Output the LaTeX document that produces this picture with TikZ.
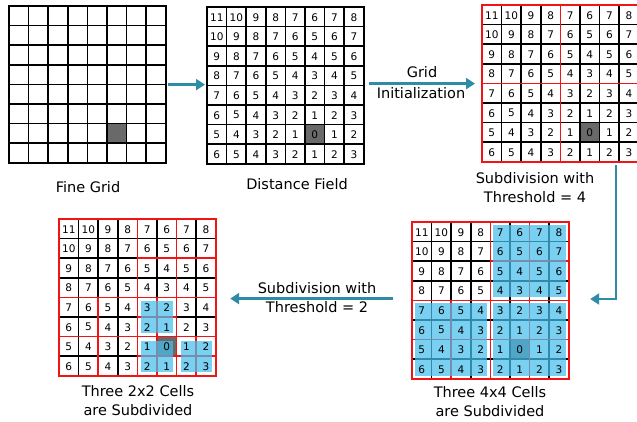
\documentclass[tikz,border=0pt]{standalone}
\usepackage{fontspec}
\setmainfont{DejaVu Sans}
\usetikzlibrary{arrows.meta}
\definecolor{arrowc}{RGB}{46,140,168}
\definecolor{hl}{RGB}{70,190,235}
\definecolor{darkcell}{RGB}{105,105,105}
\definecolor{redl}{RGB}{240,20,20}
\tikzset{
  gridline/.style={line width=1.6pt, black, line cap=rect},
  redline/.style={line width=1.7pt, redl, line cap=rect},
  hlbox/.style={fill=hl, fill opacity=0.72},
  conn/.style={arrowc, line width=2.6pt, -{Triangle[length=9pt,width=11pt]}},
  lbl/.style={font=\fontsize{14.5}{19}\selectfont, align=center, inner sep=0pt},
  num/.style={font=\fontsize{10.5}{12}\selectfont, inner sep=0pt},
  gridbox/.style={minimum width=156.8pt, minimum height=156.8pt, inner sep=0pt, draw=none, anchor=north west}
}
\newcommand{\basegrid}{%
  \fill[white] (0,0) rectangle (8,8);
  \fill[darkcell] (5,6) rectangle (6,7);
  \foreach \k in {0,...,8}{
    \draw[gridline] (\k,0) -- (\k,8);
    \draw[gridline] (0,\k) -- (8,\k);
  }
}
\newcommand{\gridnums}[1]{%
  \foreach \r/\vals in {0/{11,10,9,8,7,6,7,8},1/{10,9,8,7,6,5,6,7},2/{9,8,7,6,5,4,5,6},3/{8,7,6,5,4,3,4,5},4/{7,6,5,4,3,2,3,4},5/{6,5,4,3,2,1,2,3},6/{5,4,3,2,1,0,1,2},7/{6,5,4,3,2,1,2,3}}{
    \foreach \v [count=\c from 0] in \vals {
      \node[num] (#1-\r-\c) at (\c+0.5,\r+0.52) {\v};
    }
  }
}
\begin{document}
\begin{tikzpicture}[x=1pt,y=-1pt]
\clip (0,0) rectangle (637,421);
\fill[white] (0,0) rectangle (637,421);

% grid boxes
\node[gridbox] (G1) at (9,6) {};
\node[gridbox] (G2) at (207,7) {};
\node[gridbox] (G3) at (482,5) {};
\node[gridbox] (G4) at (412,222) {};
\node[gridbox] (G5) at (59,219) {};

% Grid 1: fine grid
\begin{scope}[shift={(9,6)}, x=19.6pt, y=-19.6pt]
  \basegrid
\end{scope}

% Grid 2: distance field
\begin{scope}[shift={(207,7)}, x=19.6pt, y=-19.6pt]
  \basegrid
  \gridnums{b}
\end{scope}

% Grid 3
\begin{scope}[shift={(482,5)}, x=19.6pt, y=-19.6pt]
  \basegrid
  \draw[redline] (0,0) rectangle (8,8) (4,0) -- (4,8) (0,4) -- (8,4);
  \gridnums{c}
\end{scope}

% Grid 4
\begin{scope}[shift={(412,222)}, x=19.6pt, y=-19.6pt]
  \basegrid
  \draw[redline] (0,0) rectangle (8,8) (4,0) -- (4,8) (0,4) -- (8,4)
    (6,0) -- (6,4) (4,2) -- (8,2)
    (2,4) -- (2,8) (0,6) -- (4,6)
    (6,4) -- (6,8) (4,6) -- (8,6);
  \fill[hlbox] (4.15,0.15) rectangle (7.85,3.85);
  \fill[hlbox] (0.15,4.15) rectangle (3.85,7.85);
  \fill[hlbox] (4.15,4.15) rectangle (7.85,7.85);
  \gridnums{d}
\end{scope}

% Grid 5
\begin{scope}[shift={(59,219)}, x=19.6pt, y=-19.6pt]
  \basegrid
  \draw[redline] (0,0) rectangle (8,8) (4,0) -- (4,8) (0,4) -- (8,4)
    (6,0) -- (6,4) (4,2) -- (8,2)
    (2,4) -- (2,8) (0,6) -- (4,6)
    (6,4) -- (6,8) (4,6) -- (8,6)
    (5,4) -- (5,6) (4,5) -- (6,5)
    (5,6) -- (5,8) (4,7) -- (6,7)
    (7,6) -- (7,8) (6,7) -- (8,7);
  \fill[hlbox] (4.2,4.2) rectangle (5.8,5.8);
  \fill[hlbox] (4.2,6.2) rectangle (5.8,7.8);
  \fill[hlbox] (6.2,6.2) rectangle (7.8,7.8);
  \gridnums{e}
\end{scope}

% connectors
\coordinate (turn) at (616,299);
\draw[conn, shorten <=2pt, shorten >=2pt] (G1.east) -- (G1.east -| G2.west);
\draw[conn, shorten <=5pt, shorten >=7pt] (G2.east |- G3.west) -- (G3.west);
\draw[conn, shorten >=21pt] ([yshift=-3pt]turn |- G3.south) -- (turn) -- (G4.east |- turn);
\draw[conn, shorten <=19pt, shorten >=14pt] ([yshift=2pt]G4.west) -- ([yshift=2pt]G4.west -| G5.east);

% labels
\node[lbl] (l1) at (88,187) {Fine Grid};
\node[lbl] (l2) at (297,184) {Distance Field};
\node[lbl] (l3a) at (422,72) {Grid};
\node[lbl] (l3b) at (421,93) {Initialization};
\node[lbl] (l4) at (535,188) {Subdivision with\\Threshold = 4};
\node[lbl] (l5) at (317,298) {Subdivision with\\Threshold = 2};
\node[lbl] (l6) at (138,401) {Three 2x2 Cells\\are Subdivided};
\node[lbl] (l7) at (490,402) {Three 4x4 Cells\\are Subdivided};
\end{tikzpicture}
\end{document}
